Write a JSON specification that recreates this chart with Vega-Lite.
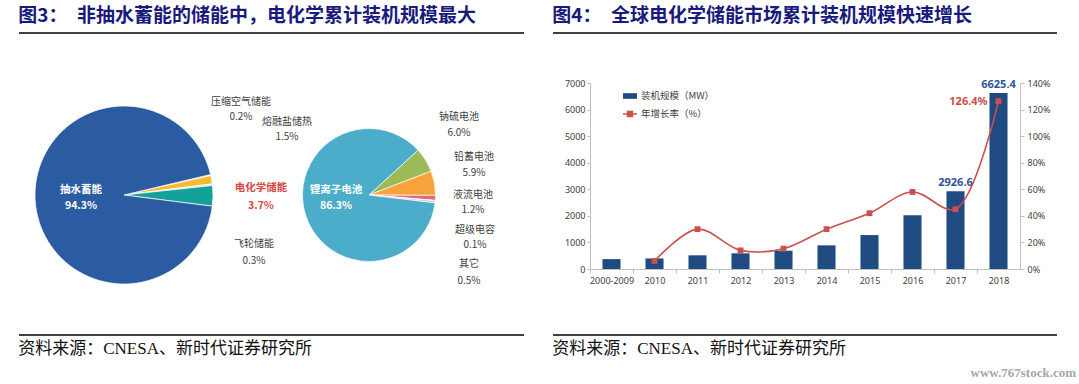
{
  "$schema": "https://vega.github.io/schema/vega-lite/v6.json",
  "background": "white",
  "padding": {"left": 18, "top": 7, "right": 4, "bottom": 4},
  "columns": 2,
  "spacing": {"row": 28, "column": 29},
  "bounds": "flush",
  "align": {"row": "each", "column": "none"},
  "resolve": {"legend": {"fill": "independent", "stroke": "independent"}},
  "datasets": {
    "storage": [
      {"group": "全部储能", "name": "压缩空气储能", "share": 0.002, "label": "压缩空气储能\n0.2%", "i": 1},
      {"group": "全部储能", "name": "熔融盐储热", "share": 0.015, "label": "熔融盐储热\n1.5%", "i": 2},
      {"group": "全部储能", "name": "飞轮储能", "share": 0.003, "label": "飞轮储能\n0.3%", "i": 3},
      {"group": "全部储能", "name": "电化学储能", "share": 0.037, "label": "电化学储能\n3.7%", "i": 4},
      {"group": "全部储能", "name": "抽水蓄能", "share": 0.943, "label": "抽水蓄能\n94.3%", "i": 5}
    ],
    "electro": [
      {"group": "电化学储能", "name": "钠硫电池", "share": 0.060, "label": "钠硫电池\n6.0%", "i": 1},
      {"group": "电化学储能", "name": "铅蓄电池", "share": 0.059, "label": "铅蓄电池\n5.9%", "i": 2},
      {"group": "电化学储能", "name": "液流电池", "share": 0.012, "label": "液流电池\n1.2%", "i": 3},
      {"group": "电化学储能", "name": "超级电容", "share": 0.001, "label": "超级电容\n0.1%", "i": 4},
      {"group": "电化学储能", "name": "其它", "share": 0.005, "label": "其它\n0.5%", "i": 5},
      {"group": "电化学储能", "name": "锂离子电池", "share": 0.863, "label": "锂离子电池\n86.3%", "i": 6}
    ],
    "market": [
      {"year": "2000-2009", "mw": 372, "growth": null},
      {"year": "2010", "mw": 397, "growth": 0.06},
      {"year": "2011", "mw": 515, "growth": 0.30},
      {"year": "2012", "mw": 590, "growth": 0.14},
      {"year": "2013", "mw": 688, "growth": 0.153},
      {"year": "2014", "mw": 890, "growth": 0.30},
      {"year": "2015", "mw": 1277, "growth": 0.42},
      {"year": "2016", "mw": 2020, "growth": 0.58},
      {"year": "2017", "mw": 2926.6, "growth": 0.45},
      {"year": "2018", "mw": 6625.4, "growth": 1.264}
    ]
  },
  "concat": [
    {
      "width": 505, "height": 22,
      "title": {"text": "图3：　非抽水蓄能的储能中，电化学累计装机规模最大", "anchor": "start", "offset": 6, "fontSize": 19, "fontWeight": "bold", "font": "Noto Sans CJK SC", "color": "#1A1A7C"},
      "data": {"values": [{"v": 1}]},
      "mark": {"type": "rule", "color": "#000000", "strokeWidth": 1.5},
      "encoding": {"y": {"field": "v", "type": "quantitative", "scale": {"domain": [0, 1]}, "axis": null}}
    },
    {
      "width": 504, "height": 22,
      "title": {"text": "图4：　全球电化学储能市场累计装机规模快速增长", "anchor": "start", "offset": 6, "fontSize": 19, "fontWeight": "bold", "font": "Noto Sans CJK SC", "color": "#1A1A7C"},
      "data": {"values": [{"v": 1}]},
      "mark": {"type": "rule", "color": "#000000", "strokeWidth": 1.5},
      "encoding": {"y": {"field": "v", "type": "quantitative", "scale": {"domain": [0, 1]}, "axis": null}}
    },
    {
      "width": 505, "height": 224,
      "layer": [
        {
          "data": {"name": "storage"},
          "mark": {"type": "arc", "outerRadius": 89, "stroke": "#ffffff", "strokeWidth": 0.7},
          "encoding": {
            "x": {"field": "group", "type": "nominal", "scale": {"type": "point", "domain": ["全部储能", "电化学储能"], "padding": 0.5306, "align": 0.4038}, "axis": null},
            "theta": {"field": "share", "type": "quantitative", "stack": true, "scale": {"range": [1.3387, 7.6219]}},
            "order": {"field": "i"},
            "color": {"field": "name", "type": "nominal", "scale": {"domain": ["压缩空气储能", "熔融盐储热", "飞轮储能", "电化学储能", "抽水蓄能"], "range": ["#F8D48A", "#F5B932", "#D5E3EC", "#14A199", "#2B5CA2"]}, "legend": null}
          }
        },
        {
          "data": {"name": "electro"},
          "mark": {"type": "arc", "outerRadius": 66.5, "stroke": "#ffffff", "strokeWidth": 0.7},
          "encoding": {
            "x": {"field": "group", "type": "nominal"},
            "theta": {"field": "share", "type": "quantitative", "stack": true, "scale": {"range": [0.829, 7.112]}},
            "order": {"field": "i"},
            "color": {"field": "name", "type": "nominal", "scale": {"domain": ["钠硫电池", "铅蓄电池", "液流电池", "超级电容", "其它", "锂离子电池"], "range": ["#9BBB59", "#F8A23C", "#E8677A", "#8064A2", "#A9CBE6", "#4BADC9"]}, "legend": null}
          }
        },
        {"data": {"name": "storage"}, "transform": [{"filter": "datum.name === '抽水蓄能'"}],
         "mark": {"type": "text", "lineBreak": "\n", "lineHeight": 16, "dx": -43, "dy": -5, "fontSize": 10.5, "fontWeight": "bold", "color": "#ffffff"},
         "encoding": {"x": {"field": "group", "type": "nominal"}, "text": {"field": "label"}}},
        {"data": {"name": "storage"}, "transform": [{"filter": "datum.name === '压缩空气储能'"}],
         "mark": {"type": "text", "lineBreak": "\n", "lineHeight": 15, "dx": 117, "dy": -93.5, "fontSize": 10, "color": "#404040"},
         "encoding": {"x": {"field": "group", "type": "nominal"}, "text": {"field": "label"}}},
        {"data": {"name": "storage"}, "transform": [{"filter": "datum.name === '熔融盐储热'"}],
         "mark": {"type": "text", "lineBreak": "\n", "lineHeight": 15, "dx": 163, "dy": -73.5, "fontSize": 10, "color": "#404040"},
         "encoding": {"x": {"field": "group", "type": "nominal"}, "text": {"field": "label"}}},
        {"data": {"name": "storage"}, "transform": [{"filter": "datum.name === '飞轮储能'"}],
         "mark": {"type": "text", "lineBreak": "\n", "lineHeight": 17, "dx": 130, "dy": 48.5, "fontSize": 10, "color": "#404040"},
         "encoding": {"x": {"field": "group", "type": "nominal"}, "text": {"field": "label"}}},
        {"data": {"name": "storage"}, "transform": [{"filter": "datum.name === '电化学储能'"}],
         "mark": {"type": "text", "lineBreak": "\n", "lineHeight": 18, "dx": 137, "dy": -7, "fontSize": 10.5, "fontWeight": "bold", "color": "#D24A43"},
         "encoding": {"x": {"field": "group", "type": "nominal"}, "text": {"field": "label"}}},
        {"data": {"name": "electro"}, "transform": [{"filter": "datum.name === '锂离子电池'"}],
         "mark": {"type": "text", "lineBreak": "\n", "lineHeight": 16, "dx": -33, "dy": -5, "fontSize": 10.5, "fontWeight": "bold", "color": "#ffffff"},
         "encoding": {"x": {"field": "group", "type": "nominal"}, "text": {"field": "label"}}},
        {"data": {"name": "electro"}, "transform": [{"filter": "datum.name === '钠硫电池'"}],
         "mark": {"type": "text", "lineBreak": "\n", "lineHeight": 16, "dx": 90, "dy": -78, "fontSize": 10, "color": "#404040"},
         "encoding": {"x": {"field": "group", "type": "nominal"}, "text": {"field": "label"}}},
        {"data": {"name": "electro"}, "transform": [{"filter": "datum.name === '铅蓄电池'"}],
         "mark": {"type": "text", "lineBreak": "\n", "lineHeight": 16, "dx": 105, "dy": -38, "fontSize": 10, "color": "#404040"},
         "encoding": {"x": {"field": "group", "type": "nominal"}, "text": {"field": "label"}}},
        {"data": {"name": "electro"}, "transform": [{"filter": "datum.name === '液流电池'"}],
         "mark": {"type": "text", "lineBreak": "\n", "lineHeight": 15, "dx": 104, "dy": -0.5, "fontSize": 10, "color": "#404040"},
         "encoding": {"x": {"field": "group", "type": "nominal"}, "text": {"field": "label"}}},
        {"data": {"name": "electro"}, "transform": [{"filter": "datum.name === '超级电容'"}],
         "mark": {"type": "text", "lineBreak": "\n", "lineHeight": 15, "dx": 106, "dy": 34.5, "fontSize": 10, "color": "#404040"},
         "encoding": {"x": {"field": "group", "type": "nominal"}, "text": {"field": "label"}}},
        {"data": {"name": "electro"}, "transform": [{"filter": "datum.name === '其它'"}],
         "mark": {"type": "text", "lineBreak": "\n", "lineHeight": 17, "dx": 100, "dy": 68.5, "fontSize": 10, "color": "#404040"},
         "encoding": {"x": {"field": "group", "type": "nominal"}, "text": {"field": "label"}}}
      ],
      "resolve": {"scale": {"theta": "independent", "color": "independent"}}
    },
    {
      "width": 467, "height": 186,
      "data": {"name": "market"},
      "encoding": {
        "x": {"field": "year", "type": "nominal", "sort": null, "scale": {"range": [37, 467], "paddingInner": 0.58, "paddingOuter": 0.29},
              "axis": {"title": null, "labelAngle": 0, "labelFontSize": 9, "labelColor": "#404040", "labelFont": "Noto Sans", "domainColor": "#BFBFBF", "tickColor": "#BFBFBF", "tickSize": 4, "labelPadding": 3, "tickOffset": -21.5, "labelOffset": 21.5, "grid": false}}
      },
      "layer": [
        {
          "encoding": {
            "y": {"field": "mw", "type": "quantitative", "scale": {"domain": [0, 7000]},
                  "axis": {"title": null, "offset": -37, "values": [0, 1000, 2000, 3000, 4000, 5000, 6000, 7000], "format": "d", "labelOverlap": false, "labelFontSize": 9, "labelColor": "#404040", "labelFont": "Noto Sans", "domainColor": "#BFBFBF", "tickColor": "#BFBFBF", "tickSize": 3, "labelPadding": 2, "grid": false}}
          },
          "layer": [
            {
              "mark": {"type": "bar"},
              "encoding": {
                "fill": {"datum": "装机规模（MW）", "scale": {"range": ["#1F4B82"]},
                         "legend": {"title": null, "orient": "none", "legendX": 69, "legendY": 5, "symbolType": "M-1,-0.4H1V0.4H-1Z", "symbolSize": 196, "labelFontSize": 9.5, "labelOffset": 3, "labelColor": "#404040", "labelFont": "Noto Sans CJK SC"}}
              }
            },
            {
              "transform": [{"filter": "datum.mw > 2500"}],
              "mark": {"type": "text", "baseline": "bottom", "dy": -3, "fontSize": 11, "fontWeight": "bold", "color": "#2F5597", "font": "Noto Sans"},
              "encoding": {"text": {"field": "mw", "type": "quantitative", "format": ".1f"}}
            },
            {
              "transform": [{"filter": "datum.year === '2018'"}],
              "mark": {"type": "text", "align": "right", "baseline": "middle", "dx": 56, "dy": 104, "fontSize": 13, "fontWeight": "bold", "font": "Liberation Serif", "color": "#A6A6A6", "text": "www.767stock.com"},
              "encoding": {"x": {"value": "width"}, "y": {"value": "height"}}
            }
          ]
        },
        {
          "encoding": {
            "y": {"field": "growth", "type": "quantitative", "scale": {"domain": [0, 1.4]},
                  "axis": {"orient": "right", "title": null, "format": ".0%", "values": [0, 0.2, 0.4, 0.6, 0.8, 1.0, 1.2, 1.4], "labelOverlap": false, "labelFontSize": 9, "labelColor": "#404040", "labelFont": "Noto Sans", "domainColor": "#BFBFBF", "tickColor": "#BFBFBF", "tickSize": 4, "labelPadding": 3, "grid": false}}
          },
          "layer": [
            {
              "mark": {"type": "line", "interpolate": "catmull-rom", "strokeWidth": 1.6},
              "encoding": {
                "stroke": {"datum": "年增长率（%）", "scale": {"range": ["#C9504C"]},
                           "legend": {"title": null, "orient": "none", "legendX": 69, "legendY": 23, "symbolType": "M-1,0H1M-0.35,-0.35H0.35V0.35H-0.35Z", "symbolSize": 196, "symbolStrokeWidth": 1.5, "labelFontSize": 9.5, "labelOffset": 3, "labelColor": "#404040", "labelFont": "Noto Sans CJK SC",
                                      "encode": {"symbols": {"update": {"fill": {"value": "#C9504C"}}}}}}
              }
            },
            {
              "mark": {"type": "square", "size": 34, "color": "#C9504C", "opacity": 1, "filled": true}
            },
            {
              "transform": [{"filter": "datum.growth > 1"}],
              "mark": {"type": "text", "align": "right", "dx": -11, "dy": 1, "fontSize": 11, "fontWeight": "bold", "color": "#C9504C", "font": "Noto Sans"},
              "encoding": {"text": {"field": "growth", "type": "quantitative", "format": ".1%"}}
            }
          ]
        }
      ],
      "resolve": {"scale": {"y": "independent"}}
    },
    {
      "width": 505, "height": 1,
      "title": {"text": "资料来源：CNESA、新时代证券研究所", "orient": "bottom", "anchor": "start", "offset": 5, "fontSize": 17, "fontWeight": "normal", "font": "Liberation Serif, Noto Sans CJK SC", "color": "#111111"},
      "data": {"values": [{"v": 1}]},
      "mark": {"type": "rule", "color": "#000000", "strokeWidth": 1.5},
      "encoding": {"y": {"field": "v", "type": "quantitative", "scale": {"domain": [0, 1]}, "axis": null}}
    },
    {
      "width": 504, "height": 1,
      "title": {"text": "资料来源：CNESA、新时代证券研究所", "orient": "bottom", "anchor": "start", "offset": 5, "fontSize": 17, "fontWeight": "normal", "font": "Liberation Serif, Noto Sans CJK SC", "color": "#111111"},
      "data": {"values": [{"v": 1}]},
      "mark": {"type": "rule", "color": "#000000", "strokeWidth": 1.5},
      "encoding": {"y": {"field": "v", "type": "quantitative", "scale": {"domain": [0, 1]}, "axis": null}}
    }
  ],
  "config": {
    "view": {"stroke": null},
    "font": "Noto Sans CJK SC",
    "axis": {"grid": false}
  }
}
